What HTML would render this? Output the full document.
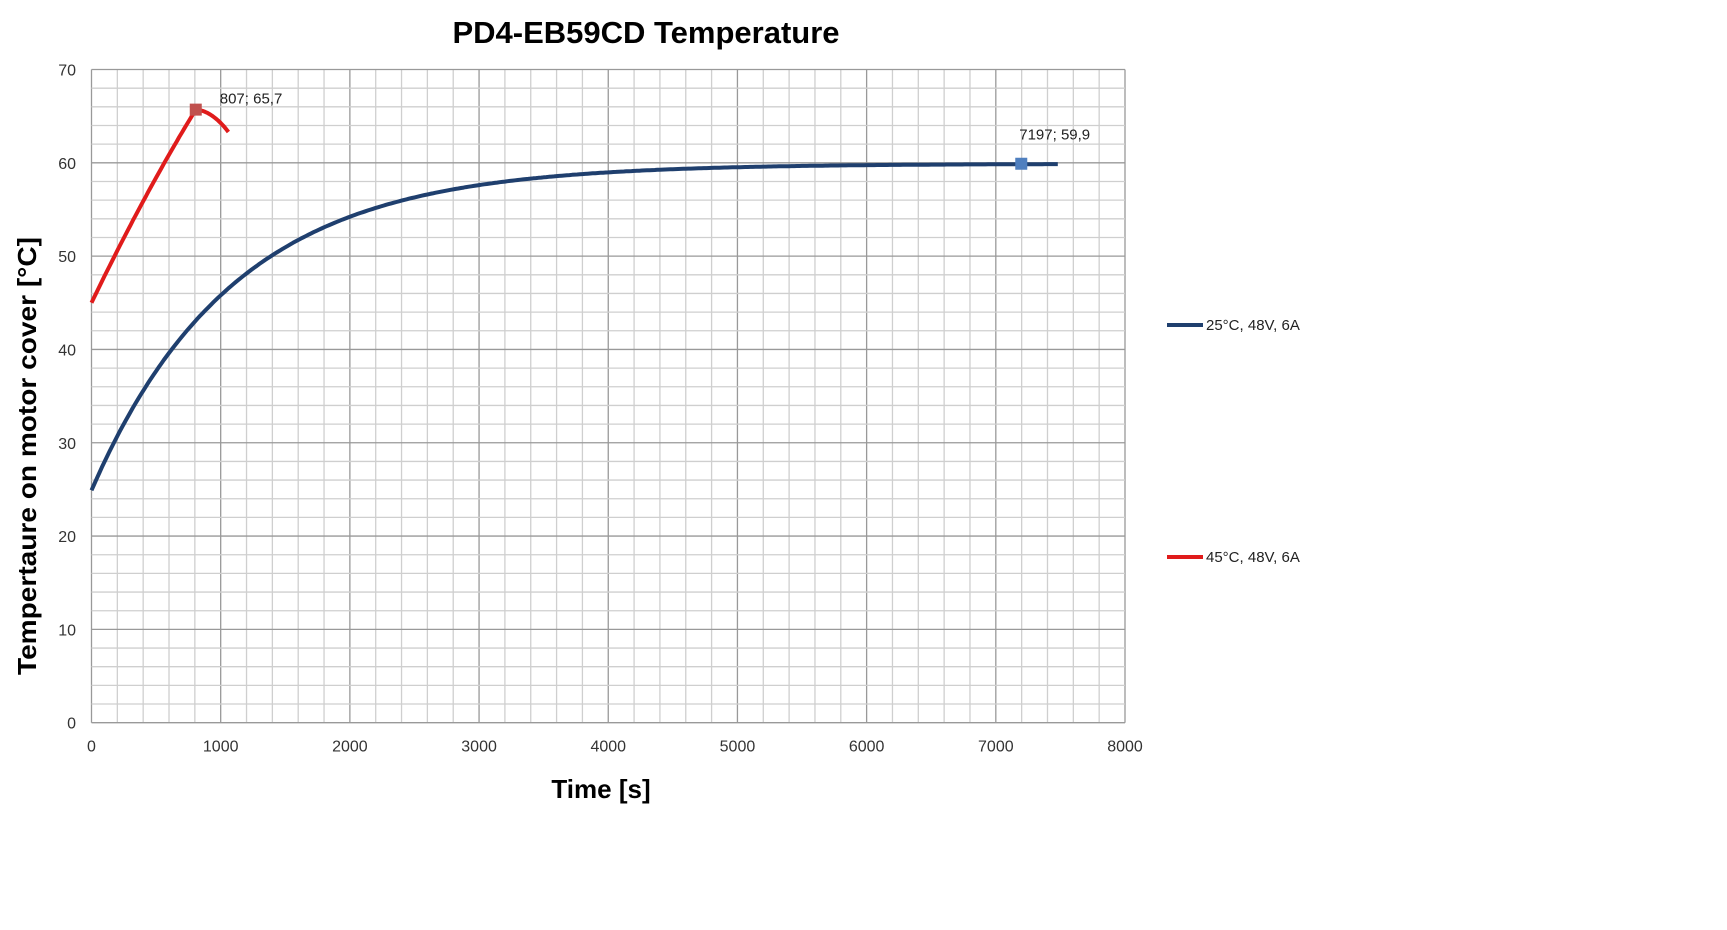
<!DOCTYPE html>
<html><head><meta charset="utf-8"><style>
html,body{margin:0;padding:0;background:#fff;}
svg{display:block;font-family:"Liberation Sans",sans-serif;}
</style></head><body>
<svg id="s" width="1727" height="930" viewBox="0 0 1727 930" xmlns="http://www.w3.org/2000/svg">
<text x="646" y="43" text-anchor="middle" font-size="31" font-weight="bold" fill="#000">PD4-EB59CD Temperature</text>
<g id="grid"></g>
<g id="labels" font-size="16" fill="#333"></g>
<text transform="translate(36,456) rotate(-90)" text-anchor="middle" font-size="26" font-weight="bold" fill="#000" textLength="438" lengthAdjust="spacingAndGlyphs">Tempertaure on motor cover [°C]</text>
<text x="601" y="798" text-anchor="middle" font-size="26" font-weight="bold" fill="#000">Time [s]</text>
<path id="blue" fill="none" stroke="#1f3f6e" stroke-width="4" stroke-linejoin="round"/>
<path id="red" fill="none" stroke="#e01b1b" stroke-width="4" stroke-linejoin="round"/>
<rect id="bm" width="12" height="12" fill="#4f7fbf"/>
<rect id="rm" width="12" height="12" fill="#c0504d"/>
<text id="bl" font-size="15" fill="#222">7197; 59,9</text>
<text id="rl" font-size="15" fill="#222">807; 65,7</text>
<line x1="1167" y1="325" x2="1203" y2="325" stroke="#1f3f6e" stroke-width="4"/>
<text x="1206" y="330" font-size="15" fill="#222">25°C, 48V, 6A</text>
<line x1="1167" y1="557" x2="1203" y2="557" stroke="#e01b1b" stroke-width="4"/>
<text x="1206" y="562" font-size="15" fill="#222">45°C, 48V, 6A</text>
</svg>
<script>
var X0=91.5,X1=1125,Y0=722.7,Y1=69.5;
function px(t){return X0+t/8000*(X1-X0);}
function py(v){return Y0-v/70*(Y0-Y1);}
var g='';
for(var t=0;t<=8000;t+=200){var maj=t%1000==0;g+='<line x1="'+px(t)+'" y1="'+Y1+'" x2="'+px(t)+'" y2="'+Y0+'" stroke="'+(maj?'#999':'#cfcfcf')+'" stroke-width="1.3"/>';}
for(var v=0;v<=70;v+=2){var maj=v%10==0;g+='<line x1="'+X0+'" y1="'+py(v)+'" x2="'+X1+'" y2="'+py(v)+'" stroke="'+(maj?'#999':'#cfcfcf')+'" stroke-width="1.3"/>';}
document.getElementById('grid').innerHTML=g;
var l='';
for(var v=0;v<=70;v+=10)l+='<text x="76" y="'+(py(v)+6)+'" text-anchor="end">'+v+'</text>';
for(var t=0;t<=8000;t+=1000)l+='<text x="'+px(t)+'" y="'+(Y0+29)+'" text-anchor="middle">'+t+'</text>';
document.getElementById('labels').innerHTML=l;
var d='';
for(var t=0;t<=7480;t+=20){var v=59.9-35*Math.exp(-t/1100);d+=(t?'L':'M')+px(t).toFixed(1)+' '+py(v).toFixed(1);}
document.getElementById('blue').setAttribute('d',d);
d='';
for(var t=0;t<=807;t+=20){var f=t/807;var v=45+20.7*(1.12*f-0.12*f*f);d+=(t?'L':'M')+px(t).toFixed(1)+' '+py(v).toFixed(1);}
d+='L'+px(807)+' '+py(65.7);
for(var t=820;t<=1060;t+=20){var f=(t-807)/253;var v=65.7-2.2*f*f-0.2*f;d+='L'+px(t).toFixed(1)+' '+py(v).toFixed(1);}
document.getElementById('red').setAttribute('d',d);
var b=document.getElementById('bm');b.setAttribute('x',px(7197)-6);b.setAttribute('y',py(59.9)-6);
var r=document.getElementById('rm');r.setAttribute('x',px(807)-6);r.setAttribute('y',py(65.7)-6);
var bl=document.getElementById('bl');bl.setAttribute('x',px(7197)-2);bl.setAttribute('y',py(59.9)-24);
var rl=document.getElementById('rl');rl.setAttribute('x',px(807)+24);rl.setAttribute('y',py(65.7)-6);
</script>
</body></html>
